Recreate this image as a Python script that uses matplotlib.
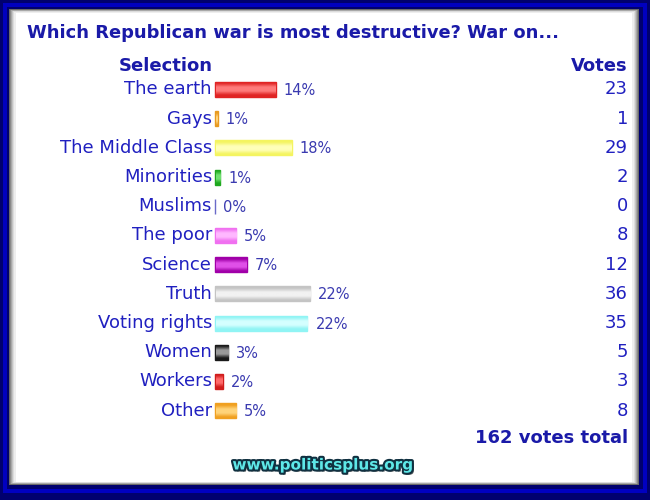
import matplotlib
matplotlib.use("Agg")
import matplotlib.pyplot as plt
import matplotlib.patheffects as pe
import numpy as np
from matplotlib.colors import LinearSegmentedColormap
from matplotlib.patches import Rectangle

title = "Which Republican war is most destructive? War on..."
categories = ["The earth", "Gays", "The Middle Class", "Minorities", "Muslims",
              "The poor", "Science", "Truth", "Voting rights", "Women", "Workers", "Other"]
votes = [23, 1, 29, 2, 0, 8, 12, 36, 35, 5, 3, 8]
percents = ["14%", "1%", "18%", "1%", "0%", "5%", "7%", "22%", "22%", "3%", "2%", "5%"]
total_label = "162 votes total"
url = "www.politicsplus.org"

# (edge/base colour, highlight colour)
bar_colors = [("#e02424", "#ff7a7a"), ("#e89a20", "#ffd27a"), ("#f4f460", "#ffffb8"),
              ("#1ea81e", "#70e070"), ("#6a6ac8", "#9a9ae0"), ("#f070f0", "#ffb8ff"),
              ("#a000a8", "#e050e8"), ("#c4c4c4", "#f2f2f2"), ("#90f4f4", "#d4ffff"),
              ("#1a1a1a", "#9a9a9a"), ("#d01c1c", "#ff6a6a"), ("#f0a020", "#ffd47a")]

W, H = 650, 500
fig = plt.figure(figsize=(6.5, 5), dpi=100)
fig.patch.set_facecolor("#00006e")
ax = fig.add_axes([0, 0, 1, 1])
ax.set_xlim(0, W)
ax.set_ylim(H, 0)
ax.axis("off")

# frame
ax.add_patch(Rectangle((3, 3), 644, 490, facecolor="#0000c0", edgecolor="none", zorder=0))
ax.add_patch(Rectangle((7, 7), 636, 482, facecolor="#00006e", edgecolor="none", zorder=0))
for i, c in enumerate(["#6a6a6a", "#8a8a8a", "#a8a8a8", "#c4c4c4", "#dcdcdc", "#eeeeee"]):
    ax.add_patch(Rectangle((9 + i, 9 + i * 0.6), 630 - 2 * i, 476 - i * 1.2,
                           facecolor=c, edgecolor="none", zorder=0))
ax.add_patch(Rectangle((16, 13), 616, 469, facecolor="white", edgecolor="none", zorder=0))

blue = "#2020c0"
hdr = "#1a1aa8"
font = "DejaVu Sans"

ax.text(27, 33, title, fontsize=12.9, fontweight="bold", color=hdr,
        ha="left", va="center", family=font)
ax.text(213, 66, "Selection", fontsize=13, fontweight="bold", color=hdr,
        ha="right", va="center", family=font)
ax.text(628, 66, "Votes", fontsize=13, fontweight="bold", color=hdr,
        ha="right", va="center", family=font)

row0, step = 89.5, 29.2
bar_left = 215
px_per_vote = 2.64
ys = row0 + step * np.arange(len(categories))
widths = np.array(votes) * px_per_vote
bars = ax.barh(ys, widths, left=bar_left, height=15, color=[c[0] for c in bar_colors],
               edgecolor=[c[0] for c in bar_colors], linewidth=1.0, zorder=2)

for b, (c0, c1) in zip(bars, bar_colors):
    x0, y0 = b.get_x(), b.get_y()
    w, h = b.get_width(), b.get_height()
    if w <= 0:
        continue
    cmap = LinearSegmentedColormap.from_list("g", [c0, c1, c1, c0])
    grad = np.linspace(0, 1, 64).reshape(-1, 1)
    ax.imshow(grad, cmap=cmap, aspect="auto", extent=(x0 + 0.5, x0 + w - 0.5, y0 + h - 1.5, y0 + 1.5),
              zorder=3, interpolation="bilinear")
ax.set_xlim(0, W)
ax.set_ylim(H, 0)

for y, cat, b, p, v in zip(ys, categories, bars, percents, votes):
    ax.text(bar_left - 3, y, cat, fontsize=13, color=blue, ha="right", va="center", family=font)
    ax.text(b.get_x() + b.get_width() + 8, y + 1, p, fontsize=10.5, color="#3a3ab0",
            ha="left", va="center", family=font)
    ax.text(628, y, str(v), fontsize=13, color=blue, ha="right", va="center", family=font)

ax.text(628, 438, total_label, fontsize=13, fontweight="bold", color=hdr,
        ha="right", va="center", family=font)

ax.text(322, 465, url, fontsize=11, fontweight="bold", color="#5ee8e8",
        ha="center", va="center", family=font,
        path_effects=[pe.withSimplePatchShadow(offset=(1.5, -1.5), shadow_rgbFace="#404040", alpha=0.8),
                      pe.withStroke(linewidth=3, foreground="#103040")])

fig.savefig("out.png", dpi=100, facecolor=fig.get_facecolor())
